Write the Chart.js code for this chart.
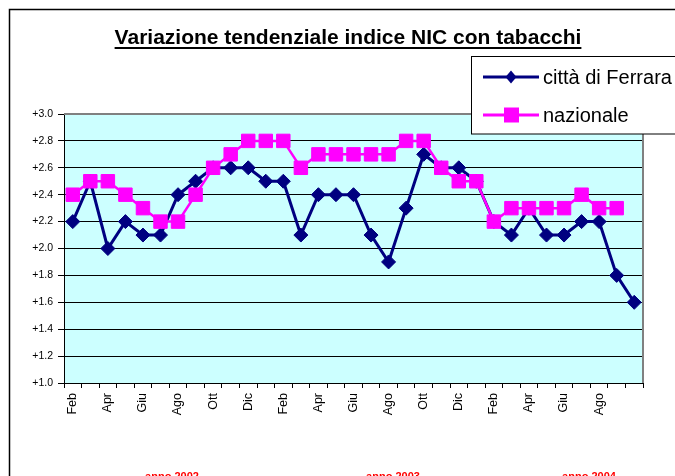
<!DOCTYPE html>
<html>
<head>
<meta charset="utf-8">
<script src="https://cdn.jsdelivr.net/npm/chart.js@4/dist/chart.umd.min.js"></script>
<style>
html,body{margin:0;padding:0;background:#fff;}
canvas{display:block;}
</style>
</head>
<body>
<canvas id="c" width="675" height="476"></canvas>
<script>
const titleText = "Variazione tendenziale indice NIC con tabacchi";
const months = ["Feb","Mar","Apr","Mag","Giu","Lug","Ago","Set","Ott","Nov","Dic",
  "Gen","Feb","Mar","Apr","Mag","Giu","Lug","Ago","Set","Ott","Nov","Dic",
  "Gen","Feb","Mar","Apr","Mag","Giu","Lug","Ago","Set","Ott"];
const tickLabels = ["Feb","","Apr","","Giu","","Ago","","Ott","","Dic",
  "","Feb","","Apr","","Giu","","Ago","","Ott","","Dic",
  "","Feb","","Apr","","Giu","","Ago","",""];
const ferrara = [2.2,2.5,2.0,2.2,2.1,2.1,2.4,2.5,2.6,2.6,2.6,
  2.5,2.5,2.1,2.4,2.4,2.4,2.1,1.9,2.3,2.7,2.6,2.6,
  2.5,2.2,2.1,2.3,2.1,2.1,2.2,2.2,1.8,1.6];
const nazionale = [2.4,2.5,2.5,2.4,2.3,2.2,2.2,2.4,2.6,2.7,2.8,
  2.8,2.8,2.6,2.7,2.7,2.7,2.7,2.7,2.8,2.8,2.6,2.5,
  2.5,2.2,2.3,2.3,2.3,2.3,2.4,2.3,2.3,null];
const seriesNames = ["città di Ferrara","nazionale"];
const yearLabels = ["anno 2002","anno 2003","anno 2004"];
const yearLabelX = [172,393,589];

const FONT = "'Liberation Sans', Arial, sans-serif";

const deco = {
  id: 'deco',
  beforeDraw(chart) {
    const {ctx, chartArea: a} = chart;
    ctx.save();
    ctx.fillStyle = '#fff';
    ctx.fillRect(0,0,chart.width,chart.height);
    ctx.fillStyle = '#CCFFFF';
    ctx.fillRect(a.left, a.top, a.right - a.left, a.bottom - a.top);
    ctx.restore();
  },
  beforeDatasetsDraw(chart) {
    const {ctx, chartArea: a} = chart;
    ctx.save();
    ctx.strokeStyle = '#808080';
    ctx.lineWidth = 2;
    ctx.beginPath();
    ctx.moveTo(a.left, a.top);
    ctx.lineTo(a.right, a.top);
    ctx.lineTo(a.right, a.bottom);
    ctx.stroke();
    ctx.restore();
  },
  afterDraw(chart) {
    const {ctx} = chart;
    ctx.save();
    // outer border
    ctx.strokeStyle = '#000';
    ctx.lineWidth = 1.5;
    ctx.strokeRect(9.5, 9.5, 720, 520);
    // title
    ctx.font = "bold 21px " + FONT;
    ctx.fillStyle = '#000';
    ctx.textAlign = 'center';
    ctx.textBaseline = 'alphabetic';
    const tx = 348, ty = 44;
    ctx.fillText(titleText, tx, ty);
    const tw = ctx.measureText(titleText).width;
    ctx.fillRect(tx - tw/2, ty + 3, tw, 2);
    // legend
    ctx.fillStyle = '#fff';
    ctx.fillRect(471.5, 56.5, 300, 77.5);
    ctx.strokeStyle = '#000';
    ctx.lineWidth = 1;
    ctx.strokeRect(471.5, 56.5, 300, 77.5);
    const ds = chart.data.datasets;
    const rows = [{d: ds[1], y: 77}, {d: ds[0], y: 115}];
    rows.forEach((r, i) => {
      ctx.strokeStyle = r.d.borderColor;
      ctx.lineWidth = 3;
      ctx.beginPath();
      ctx.moveTo(483, r.y);
      ctx.lineTo(539, r.y);
      ctx.stroke();
      ctx.fillStyle = r.d.pointBackgroundColor;
      ctx.beginPath();
      if (i === 0) {
        ctx.moveTo(511, r.y - 6.5); ctx.lineTo(516.5, r.y); ctx.lineTo(511, r.y + 6.5); ctx.lineTo(505.5, r.y);
      } else {
        ctx.rect(504, r.y - 7.5, 15, 15);
      }
      ctx.fill();
      ctx.fillStyle = '#000';
      ctx.font = "20px " + FONT;
      ctx.textAlign = 'left';
      ctx.textBaseline = 'middle';
      ctx.fillText(r.d.label, 543, r.y + 1);
    });
    // year labels
    ctx.fillStyle = '#FF0000';
    ctx.font = "bold 11px " + FONT;
    ctx.textAlign = 'center';
    ctx.textBaseline = 'alphabetic';
    yearLabels.forEach((t, i) => ctx.fillText(t, yearLabelX[i], 480));
    ctx.restore();
  }
};

new Chart(document.getElementById('c'), {
  type: 'line',
  data: {
    labels: months,
    datasets: [
      {
        label: seriesNames[1],
        data: nazionale,
        borderColor: '#FF00FF',
        backgroundColor: '#FF00FF',
        pointBackgroundColor: '#FF00FF',
        pointBorderColor: '#FF00FF',
        borderWidth: 2.5,
        pointStyle: 'rect',
        pointRadius: 9.5,
        pointBorderWidth: 1,
        tension: 0,
        clip: false,
        order: 0
      },
      {
        label: seriesNames[0],
        data: ferrara,
        borderColor: '#000080',
        backgroundColor: '#000080',
        pointBackgroundColor: '#000080',
        pointBorderColor: '#000080',
        borderWidth: 3,
        pointStyle: 'rectRot',
        pointRadius: 7,
        pointBorderWidth: 1,
        tension: 0,
        clip: false,
        order: 1
      }
    ]
  },
  options: {
    responsive: false,
    animation: false,
    devicePixelRatio: 1,
    layout: { padding: { left: 0, top: 114, right: 32, bottom: 0 } },
    plugins: { legend: { display: false }, title: { display: false }, tooltip: { enabled: false } },
    scales: {
      x: {
        type: 'category',
        offset: true,
        afterFit(s) { s.height = 93; },
        grid: { display: true, drawOnChartArea: false, drawTicks: true, tickLength: 5, offset: true, color: '#000', lineWidth: 1 },
        border: { display: true, color: '#000', width: 1 },
        ticks: {
          autoSkip: false,
          minRotation: 90,
          maxRotation: 90,
          padding: 5,
          color: '#000',
          font: { family: FONT, size: 12.5 },
          callback(v, i) { return tickLabels[i]; }
        }
      },
      y: {
        min: 1,
        max: 3,
        afterFit(s) { s.width = 64; },
        grid: {
          color: (c) => (c.tick && Math.abs(c.tick.value - 3) < 1e-6) ? 'rgba(0,0,0,0)' : '#000',
          lineWidth: 1,
          tickColor: '#000',
          tickWidth: 1,
          tickLength: 6,
          drawTicks: true
        },
        border: { display: true, color: '#000', width: 1 },
        ticks: {
          stepSize: 0.2,
          padding: 5,
          color: '#000',
          font: { family: FONT, size: 10.5 },
          callback(v) { return '+' + Number(v).toFixed(1); }
        }
      }
    }
  },
  plugins: [deco]
});
</script>
</body>
</html>
